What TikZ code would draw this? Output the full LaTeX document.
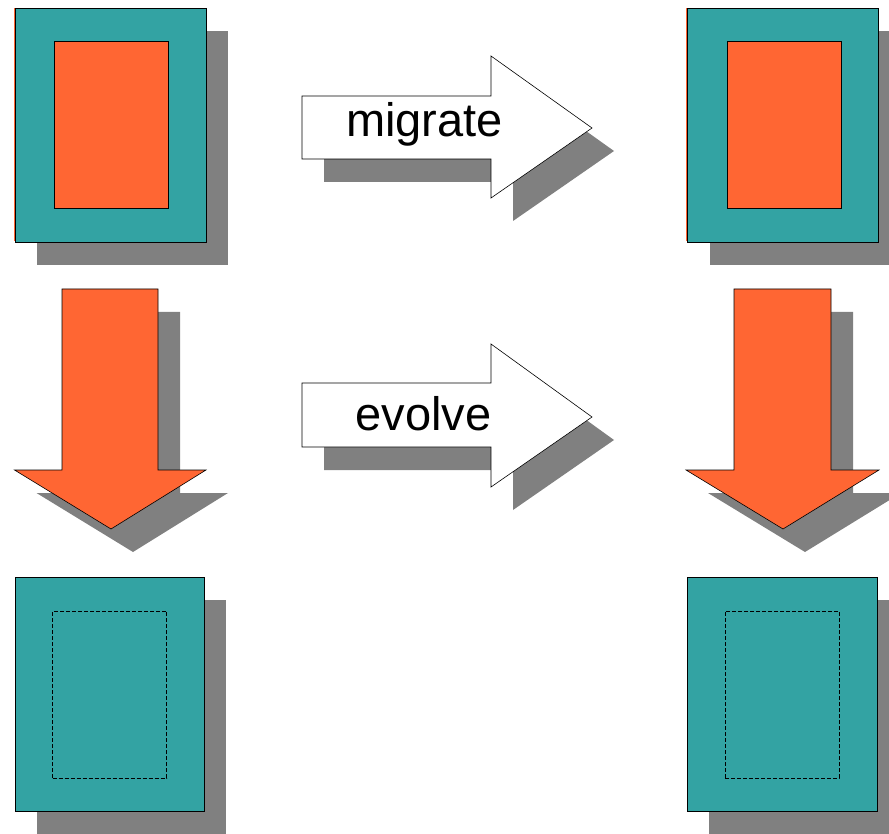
\documentclass[tikz,border=0pt]{standalone}
\usepackage{fontspec}
\setmainfont{Liberation Sans}
\usetikzlibrary{shadows}
\definecolor{tealfill}{HTML}{33A3A3}
\definecolor{orangefill}{HTML}{FF6633}
\definecolor{shadowgray}{HTML}{808080}

\begin{document}
\begin{tikzpicture}[
  x=1pt, y=-1pt,
  castshadow/.style={general shadow={fill=shadowgray, shadow xshift=22pt, shadow yshift=-23pt}},
  frame/.style={draw, fill=tealfill, line width=0.8pt, inner sep=0pt, minimum width=191pt, minimum height=234pt, castshadow},
  core/.style={draw, fill=orangefill, line width=0.8pt, inner sep=0pt, minimum width=114pt, minimum height=167pt},
  slot/.style={draw, dash pattern=on 4pt off 2pt, line width=0.7pt, inner sep=0pt, minimum width=114pt, minimum height=167pt},
  bigarrow/.style={draw, line width=0.6pt, castshadow},
  lbl/.style={font=\fontsize{47}{56}\selectfont, anchor=base}
]
\useasboundingbox (0,0) rectangle (889,834);

% top row: original and migrated
\fill[orangefill] (13.8,8) rectangle (30,241);
\node[frame] (orig) at (110.5,125) {};
\node[core] (origcore) at (111.5,124.5) {};
\fill[orangefill] (685.8,8) rectangle (700,241);
\node[frame] (mig) at (783,125) {};
\node[core] (migcore) at (784,124.5) {};

% horizontal arrows
\draw[bigarrow, fill=white] (302,96) -- (491,96) -- (491,56) -- (592,128) -- (491,198) -- (491,159) -- (302,159) -- cycle;
\node[lbl] (migratelbl) at (424.5,137) {migrate};
\draw[bigarrow, fill=white] (302,383) -- (491,383) -- (491,344) -- (592,417) -- (491,487) -- (491,447) -- (302,447) -- cycle;
\node[lbl] (evolvelbl) at (423.5,430) {evolve};

% vertical arrows
\draw[bigarrow, fill=orangefill] (62,289) -- (158,289) -- (158,470) -- (206,470) -- (111,529) -- (14.5,470) -- (62,470) -- cycle;
\draw[bigarrow, fill=orangefill] (734,289) -- (831,289) -- (831,470) -- (879,470) -- (783,529) -- (686,470) -- (734,470) -- cycle;

% bottom row: evolved
\node[frame, minimum width=189pt] (evo) at (109.5,694) {};
\node[slot] (evocore) at (109.5,694.5) {};
\node[frame, minimum width=190pt] (migevo) at (782,694) {};
\node[slot] (migevocore) at (782,694.5) {};
\end{tikzpicture}
\end{document}
